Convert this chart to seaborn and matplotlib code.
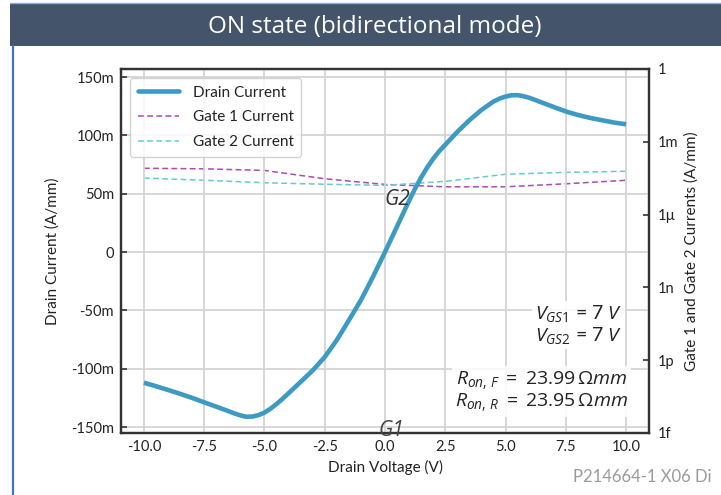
import matplotlib
matplotlib.use("Agg")
import matplotlib.pyplot as plt
from matplotlib.patches import Rectangle
from matplotlib.lines import Line2D
from matplotlib.ticker import NullLocator
import seaborn as sns
import pandas as pd

# ---------------- data ----------------
drain_voltage = [-10.0, -9.5, -9.0, -8.5, -8.0, -7.5, -7.0, -6.5, -6.25, -6.0,
                 -5.75, -5.5, -5.25, -5.0, -4.75, -4.5, -4.25, -4.0, -3.5, -3.0,
                 -2.5, -2.0, -1.5, -1.0, -0.5, 0.0, 0.5, 1.0, 1.25, 1.5,
                 1.75, 2.0, 2.25, 2.5, 3.0, 3.5, 4.0, 4.5, 4.75, 5.0,
                 5.25, 5.5, 5.75, 6.0, 6.25, 6.5, 7.0, 7.5, 8.0, 8.5,
                 9.0, 9.5, 10.0]
drain_current = [-0.1120, -0.1150, -0.1182, -0.1215, -0.1250, -0.1288, -0.1325, -0.1363, -0.1383, -0.1400,
                 -0.1412, -0.1410, -0.1398, -0.1376, -0.1343, -0.1303, -0.1258, -0.1210, -0.1113, -0.1015,
                 -0.0900, -0.0755, -0.0585, -0.0413, -0.0213, 0.0000, 0.0220, 0.0440, 0.0545, 0.0640,
                 0.0725, 0.0800, 0.0865, 0.0920, 0.1030, 0.1130, 0.1218, 0.1290, 0.1315, 0.1333,
                 0.1344, 0.1345, 0.1336, 0.1321, 0.1302, 0.1282, 0.1243, 0.1205, 0.1175, 0.1150,
                 0.1130, 0.1110, 0.1095]

gate_voltage = [-10.0, -7.5, -5.0, -2.5, 0.0, 2.5, 5.0, 7.5, 10.0]
gate1_current = [8.1e-5, 7.7e-5, 6.6e-5, 3.0e-5, 1.75e-5, 1.4e-5, 1.4e-5, 1.86e-5, 2.6e-5]
gate2_current = [3.2e-5, 2.6e-5, 2.05e-5, 1.78e-5, 1.6e-5, 2.35e-5, 4.6e-5, 5.5e-5, 6.1e-5]

x_ticks = [-10.0, -7.5, -5.0, -2.5, 0.0, 2.5, 5.0, 7.5, 10.0]
x_tick_labels = ["-10.0", "-7.5", "-5.0", "-2.5", "0.0", "2.5", "5.0", "7.5", "10.0"]
y_ticks = [-0.15, -0.10, -0.05, 0.0, 0.05, 0.10, 0.15]
y_tick_labels = ["-150m", "-100m", "-50m", "0", "50m", "100m", "150m"]
y2_ticks = [1e-15, 1e-12, 1e-9, 1e-6, 1e-3, 1.0]
y2_tick_labels = ["1f", "1p", "1n", "1\u00b5", "1m", "1"]

# ---------------- style ----------------
sns.set_style("white")
plt.rcParams["font.family"] = ["Lato", "DejaVu Sans"]
plt.rcParams["mathtext.fontset"] = "custom"
plt.rcParams["mathtext.rm"] = "Open Sans"
plt.rcParams["mathtext.it"] = "Open Sans:italic"
plt.rcParams["mathtext.bf"] = "Open Sans:bold"

DRAIN_C = "#3D9BC3"
G1_C = "#B048B5"
G2_C = "#62CDD0"
SPINE_C = "#333333"
TXT_C = "#222222"

W, H = 721, 495
fig = plt.figure(figsize=(W / 100, H / 100), dpi=100)
fig.patch.set_facecolor("white")

# slide decorations
fig.patches.append(Rectangle((10 / W, 1 - 46 / H), 711 / W, 43 / H,
                             transform=fig.transFigure, facecolor="#44546A",
                             edgecolor="none", zorder=0))
fig.lines.append(Line2D([10 / W, 1.0], [1 - 2.5 / H, 1 - 2.5 / H],
                        transform=fig.transFigure, color="#8FAADC", lw=1.0))
fig.lines.append(Line2D([13 / W, 13 / W], [0.0, 1 - 46 / H],
                        transform=fig.transFigure, color="#4472C4", lw=1.6))
fig.text(375 / W, 1 - 27 / H, "ON state (bidirectional mode)", color="white",
         fontsize=17.5, family="Open Sans", ha="center", va="center")

ax = fig.add_axes([121 / W, 1 - 433 / H, 528 / W, 364 / H])
ax2 = ax.twinx()
ax.set_zorder(ax2.get_zorder() + 1)
ax.patch.set_visible(False)

df_drain = pd.DataFrame({"V": drain_voltage, "I": drain_current})
df_gate = pd.DataFrame({"V": gate_voltage, "G1": gate1_current, "G2": gate2_current})

sns.lineplot(data=df_drain, x="V", y="I", ax=ax, color=DRAIN_C, lw=3.3,
             legend=False, solid_joinstyle="round", solid_capstyle="butt")
sns.lineplot(data=df_gate, x="V", y="G1", ax=ax2, color=G1_C, lw=1.1, legend=False)
sns.lineplot(data=df_gate, x="V", y="G2", ax=ax2, color=G2_C, lw=1.1, legend=False)
for ln in ax2.lines:
    ln.set_linestyle((0, (3.8, 2.2)))

ax.set_xlim(-10.95, 10.95)
ax.set_ylim(-0.1551, 0.1569)
ax2.set_yscale("log")
ax2.set_ylim(1e-15, 1.0)

ax.set_xticks(x_ticks)
ax.set_xticklabels(x_tick_labels)
ax.set_yticks(y_ticks)
ax.set_yticklabels(y_tick_labels)
ax2.set_yticks(y2_ticks)
ax2.set_yticklabels(y2_tick_labels)
ax2.yaxis.set_minor_locator(NullLocator())

ax.grid(True, color="#d4d4d4", lw=1.3)
ax2.grid(False)

for a in (ax, ax2):
    for s in a.spines.values():
        s.set_color(SPINE_C)
        s.set_linewidth(1.6)
ax.tick_params(axis="both", direction="in", length=4, width=1.2, color=SPINE_C,
               labelsize=10.5, labelcolor=TXT_C)
ax.tick_params(axis="y", pad=5)
ax.tick_params(axis="x", pad=5)
ax2.tick_params(axis="y", direction="in", length=4, width=1.2, color=SPINE_C,
                labelsize=10.5, labelcolor=TXT_C, pad=6)

ax.set_xlabel("Drain Voltage (V)", fontsize=11, color=TXT_C, labelpad=4)
ax.set_ylabel("Drain Current (A/mm)", fontsize=11, color=TXT_C, labelpad=8)
ax2.set_ylabel("Gate 1 and Gate 2 Currents (A/mm)", fontsize=11, color=TXT_C, labelpad=5)

handles = [Line2D([], [], color=DRAIN_C, lw=3.3),
           Line2D([], [], color=G1_C, lw=1.1, ls=(0, (3.8, 2.2))),
           Line2D([], [], color=G2_C, lw=1.1, ls=(0, (3.8, 2.2)))]
leg = ax.legend(handles, ["Drain Current", "Gate 1 Current", "Gate 2 Current"],
                loc="upper left", bbox_to_anchor=(0.017, 0.975), borderaxespad=0,
                fontsize=11, handlelength=2.7, handletextpad=0.9, labelspacing=0.7,
                borderpad=0.5, frameon=True, fancybox=True, framealpha=0.85,
                edgecolor="#cccccc")
for t in leg.get_texts():
    t.set_color(TXT_C)

# annotations
ax.text(0.52, 0.045, "G2", fontsize=15, style="italic", family="Open Sans",
        color="#333333", ha="center", va="center")
ax.text(0.25, -0.1530, "G1", fontsize=15, style="italic", family="Open Sans",
        color="#444444", ha="center", va="center", clip_on=False)

bbox = dict(boxstyle="square,pad=0.15", facecolor="white", edgecolor="none", alpha=0.85)
ax.text(0.949, 0.297, "$V_{GS1}$ = 7 $V$\n$V_{GS2}$ = 7 $V$", transform=ax.transAxes,
        fontsize=14, color=TXT_C, ha="right", va="center", linespacing=1.05, bbox=bbox)
ax.text(0.960, 0.113,
        "$R_{on,\\,F}\\;=\\;23.99\\,\\Omega mm$\n$R_{on,\\,R}\\;=\\;23.95\\,\\Omega mm$",
        transform=ax.transAxes, fontsize=14, color=TXT_C, ha="right", va="center",
        linespacing=1.0, bbox=bbox)

fig.text(573 / W, 1 - 477 / H, "P214664-1 X06 Di", fontsize=12, color="#9a9a9a",
         ha="left", va="center")

fig.savefig("out.png", dpi=100)
